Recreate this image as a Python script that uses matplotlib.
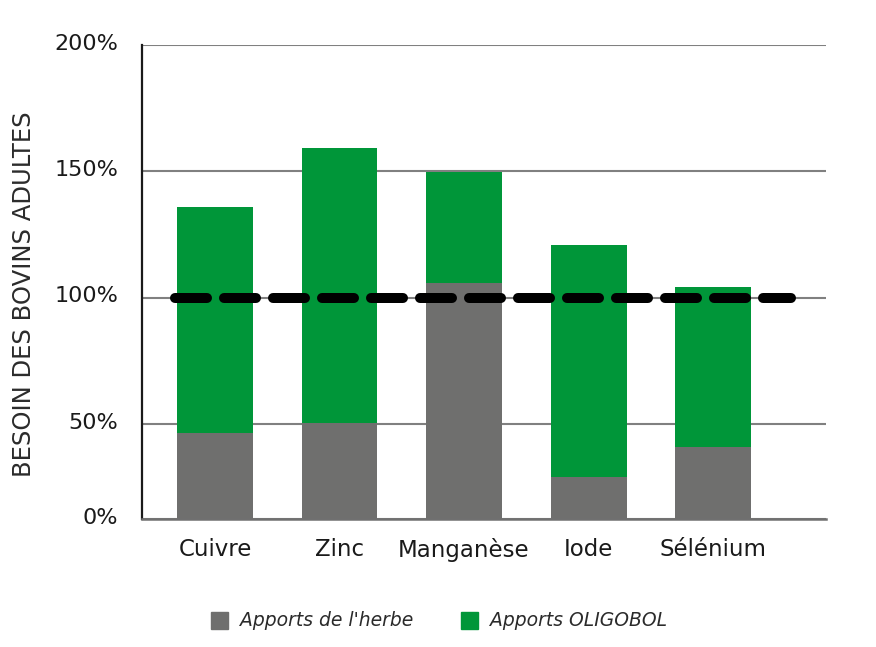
import matplotlib.pyplot as plt
from matplotlib.transforms import ScaledTranslation

minerais = ['Cuivre', 'Zinc', 'Manganèse', 'Iode', 'Sélénium']
herbe = [46.4, 50.4, 105.9, 29.1, 41.0]        # apports de l'herbe (%)
oligobol = [89.5, 108.7, 43.9, 91.6, 63.1]     # complément OLIGOBOL (%)
besoin = 100
yticks = [12.5, 50, 100, 150, 200]
ylabels = ['0%', '50%', '100%', '150%', '200%']

gris = '#6f6f6e'
vert = '#009639'
texte = '#2b2b2b'
plt.rcParams['font.family'] = ['DejaVu Sans']

fig = plt.figure(figsize=(8.76, 6.47), dpi=100)
ax = fig.add_axes([0.1621, 0.1978, 0.7808, 0.7326])

x = list(range(len(minerais)))
ax.bar(x, herbe, width=0.61, color=gris, bottom=0, zorder=2)
ax.bar(x, oligobol, width=0.61, color=vert, bottom=herbe, zorder=2)

# ligne du besoin
ax.plot([-0.32, 4.63], [besoin, besoin], color='black', lw=7.2,
        dashes=(3.2, 1.7), dash_capstyle='round', zorder=3)

ax.set_xlim(-0.586, 4.907)
ax.set_ylim(12.5, 200)
ax.set_yticks(yticks)
ax.set_yticklabels(ylabels, fontsize=16, color='#1a1a1a')
ax.set_xticks(x)
ax.set_xticklabels(minerais, fontsize=16.5, color='#1a1a1a')
ax.tick_params(axis='both', length=0)
ax.tick_params(axis='y', pad=17)
ax.tick_params(axis='x', pad=14)
# étiquettes un peu au-dessus des lignes
decal = ScaledTranslation(0, 2.5 / 72, fig.dpi_scale_trans)
for lab in ax.get_yticklabels():
    lab.set_transform(lab.get_transform() + decal)
ax.yaxis.grid(True, color='#808080', lw=1.5, zorder=1)
for s in ['top', 'right']:
    ax.spines[s].set_visible(False)
ax.spines['left'].set_color('#1a1a1a')
ax.spines['left'].set_linewidth(1.6)
ax.spines['bottom'].set_color('#707070')
ax.spines['bottom'].set_linewidth(1.8)
ax.set_ylabel('BESOIN DES BOVINS ADULTES', fontsize=17.5, color=texte)
ax.yaxis.set_label_coords(-0.155, 0.475)

# légende
fig.patches.append(plt.Rectangle((211 / 876, 1 - 629 / 647), 17 / 876, 17 / 647,
                                 transform=fig.transFigure, color=gris))
fig.text(240 / 876, 1 - 621 / 647, "Apports de l'herbe", fontsize=13.5,
         style='italic', color=texte, va='center')
fig.patches.append(plt.Rectangle((461 / 876, 1 - 629 / 647), 17 / 876, 17 / 647,
                                 transform=fig.transFigure, color=vert))
fig.text(490 / 876, 1 - 621 / 647, 'Apports OLIGOBOL', fontsize=13.5,
         style='italic', color=texte, va='center')

fig.savefig('out.png', dpi=100)
